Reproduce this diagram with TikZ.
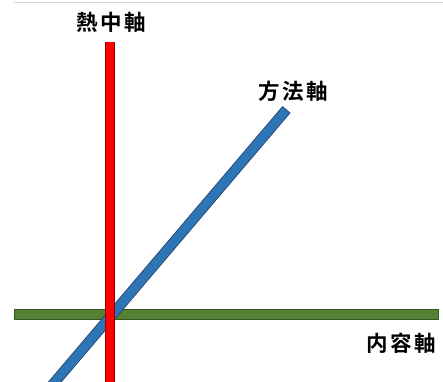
\documentclass[tikz,border=0pt]{standalone}
\usepackage{fontspec}
\usetikzlibrary{calc}
\newfontfamily\jpfont{Noto Sans CJK JP}[BoldFont={Noto Sans CJK JP Bold}]
\begin{document}
\begin{tikzpicture}[x=1pt,y=-1pt,
  lbl/.style={font=\jpfont\bfseries\fontsize{21.5pt}{24pt}\selectfont, inner sep=0pt, anchor=center},
  axisbar/.style={line cap=butt}
]
\useasboundingbox (0,0) rectangle (443,381);
\clip (0,0) rectangle (443,381);
% faint top rule
\coordinate (tl) at (14,2);
\coordinate (tr) at (443,2);
\draw[black!15, line width=0.8pt] (tl) -- (tr);
% content axis (green)
\coordinate (gL) at (14,314.3);
\coordinate (gR) at (439,314.3);
\draw[axisbar, line width=10.5pt, color={rgb,255:red,56;green,87;blue,35}] (gL) -- (gR);
\draw[axisbar, line width=9pt, color={rgb,255:red,84;green,130;blue,53}] ([xshift=0.75pt]gL) -- ([xshift=-0.75pt]gR);
% method axis (blue)
\coordinate (bB) at (48,390);
\coordinate (bT) at (286.5,109.5);
\draw[axisbar, line width=10.5pt, color={rgb,255:red,31;green,56;blue,100}] (bB) -- (bT);
\draw[axisbar, line width=9pt, color={rgb,255:red,46;green,117;blue,182}] (bB) -- ($(bT)!0.7pt!(bB)$);
% enthusiasm axis (red)
\coordinate (rT) at (110.2,42.3);
\coordinate (rB) at (110.2,390);
\draw[axisbar, line width=9.5pt, color={rgb,255:red,150;green,0;blue,0}] (rT) -- (rB);
\draw[axisbar, line width=8pt, red] ([yshift=0.75pt]rT) -- (rB);
% labels
\node[lbl] (heat) at (111.5,22.5) {熱\kern2.5pt 中\kern2.5pt 軸};
\node[lbl] (meth) at (293,91) {方\kern2.5pt 法\kern2.5pt 軸};
\node[lbl] (cont) at (401,343.5) {内\kern2.5pt 容\kern2.5pt 軸};
\end{tikzpicture}
\end{document}
